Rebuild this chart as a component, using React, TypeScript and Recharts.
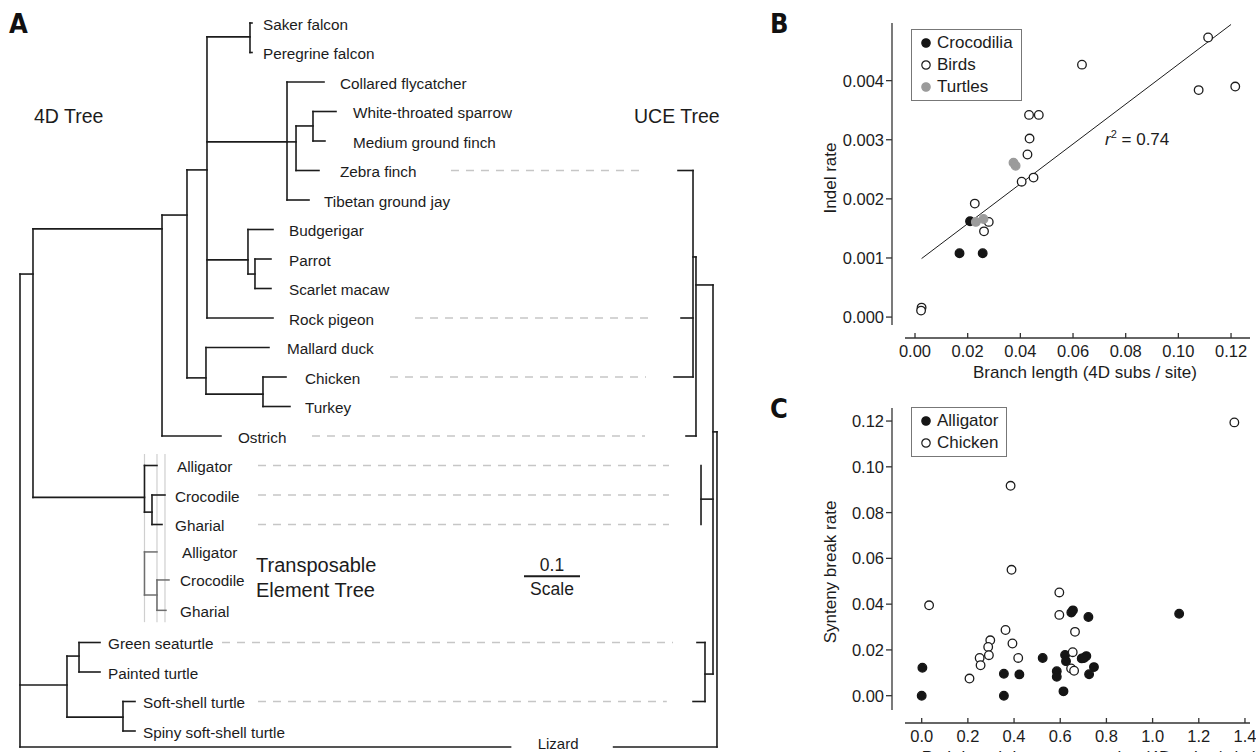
import { ScatterChart, Scatter, XAxis, YAxis, ReferenceLine, Legend } from 'recharts'

const FONT = "'Liberation Sans', Arial, Helvetica, sans-serif"
const LETTER_FONT = "'Liberation Sans Narrow', 'DejaVu Sans Condensed', 'Liberation Sans', sans-serif"
const INK = '#1c1c1c'
const AXIS = '#333'
const AXIS_GAP = 13 // detached R-style axes

// ---------- Panel A: trees ----------
// x = branch length from the 4D root (subs / site), row = leaf row (0 = Saker falcon)
type Node = [id: string, parent: string | null, x: number, row: number | null]

const TREE_4D: Node[] = [
  ['root', null, 0, null],
  ['Archosauria', 'root', 0.0232, 8.51],
  ['Aves', 'Archosauria', 0.2536, 6.98],
  ['Neognathae', 'Aves', 0.2982, 6.51],
  ['Neoaves', 'Neognathae', 0.3339, 4.98],
  ['Falcons', 'Neoaves', 0.4107, 0.47],
  ['Saker falcon', 'Falcons', 0.4143, 0],
  ['Peregrine falcon', 'Falcons', 0.4143, 1],
  ['Passeriformes', 'Neoaves', 0.4768, 4.03],
  ['Collared flycatcher', 'Passeriformes', 0.5429, 2],
  ['Passeroidea', 'Passeriformes', 0.4929, 4.03],
  ['Emberizoidea', 'Passeroidea', 0.5232, 3.49],
  ['White-throated sparrow', 'Emberizoidea', 0.5643, 3],
  ['Medium ground finch', 'Emberizoidea', 0.5446, 4],
  ['Zebra finch', 'Passeroidea', 0.5339, 5],
  ['Tibetan ground jay', 'Passeriformes', 0.5161, 6],
  ['Psittaciformes', 'Neoaves', 0.4071, 8.03],
  ['Budgerigar', 'Psittaciformes', 0.4518, 7],
  ['Arini', 'Psittaciformes', 0.4196, 8.51],
  ['Parrot', 'Arini', 0.4482, 8],
  ['Scarlet macaw', 'Arini', 0.4482, 9],
  ['Rock pigeon', 'Neoaves', 0.4518, 10],
  ['Galloanserae', 'Neognathae', 0.3321, 12.03],
  ['Mallard duck', 'Galloanserae', 0.4446, 11],
  ['Phasianidae', 'Galloanserae', 0.4339, 12.58],
  ['Chicken', 'Phasianidae', 0.475, 12],
  ['Turkey', 'Phasianidae', 0.4821, 13],
  ['Ostrich', 'Aves', 0.3589, 14],
  ['Crocodylia', 'Archosauria', 0.2223, 16.08],
  ['Alligator', 'Crocodylia', 0.2446, 15],
  ['Crocodylidae', 'Crocodylia', 0.2357, 16.58],
  ['Crocodile', 'Crocodylidae', 0.2589, 16],
  ['Gharial', 'Crocodylidae', 0.2536, 17],
  ['Testudines', 'root', 0.0839, 22.44],
  ['Cryptodira', 'Testudines', 0.1054, 21.46],
  ['Green seaturtle', 'Cryptodira', 0.1429, 21],
  ['Painted turtle', 'Cryptodira', 0.1429, 22],
  ['Trionychidae', 'Testudines', 0.1839, 23.53],
  ['Soft-shell turtle', 'Trionychidae', 0.2054, 23],
  ['Spiny soft-shell turtle', 'Trionychidae', 0.2054, 24],
  ['Lizard', 'root', 1.2446, 24.54],
]

const TREE_TE: Node[] = [
  ['root', null, 0.2223, null],
  ['Alligator', 'root', 0.2446, 17.93],
  ['Crocodylidae', 'root', 0.2446, 19.39],
  ['Crocodile', 'Crocodylidae', 0.2661, 18.88],
  ['Gharial', 'Crocodylidae', 0.2607, 19.91],
]

const TREE_UCE: Node[] = [
  ['root', null, 1.2446, null],
  ['Reptiles', 'root', 1.2375, 13.86],
  ['Aves', 'Reptiles', 1.2071, 8.88],
  ['Neognathae', 'Aves', 1.2018, 7.93],
  ['Zebra finch', 'Neognathae', 1.175, 5],
  ['Rock pigeon', 'Neognathae', 1.1804, 10],
  ['Chicken', 'Neognathae', 1.1679, 12],
  ['Ostrich', 'Aves', 1.1893, 14],
  ['Crocodylia', 'Reptiles', 1.2161, 16.14],
  ['Alligator', 'Crocodylia', 1.2161, 15],
  ['Crocodile', 'Crocodylia', 1.2161, 16],
  ['Gharial', 'Crocodylia', 1.2161, 17],
  ['Testudines', 'Reptiles', 1.2232, 22.07],
  ['Green seaturtle', 'Testudines', 1.2089, 21],
  ['Soft-shell turtle', 'Testudines', 1.2018, 23],
  ['Lizard', 'root', 1.2446, 24.54],
]

// dashed links between 4D leaves and UCE leaves: [leaf, from, to]
const LINKS: [string, number, number][] = [
  ['Zebra finch', 0.7696, 1.1179],
  ['Rock pigeon', 0.7054, 1.1286],
  ['Chicken', 0.6607, 1.1179],
  ['Ostrich', 0.5214, 1.1161],
  ['Alligator', 0.425, 1.1589],
  ['Crocodile', 0.425, 1.1589],
  ['Gharial', 0.425, 1.1589],
  ['Green seaturtle', 0.3607, 1.1661],
  ['Soft-shell turtle', 0.425, 1.155],
]

const TE_GUIDES = [0.2223, 0.2446, 0.2589]
const TE_GUIDE_ROWS = [14.61, 20.31]
const SCALE_BAR = [0.9, 1.0]
const SCALE_ROW = 18.75

// ---------- Panel B ----------
const BIRDS = [
  [0.1113, 0.00473], [0.0634, 0.00427], [0.1077, 0.00384], [0.1216, 0.0039],
  [0.0433, 0.00342], [0.047, 0.00342], [0.0435, 0.00302], [0.0427, 0.00275],
  [0.0405, 0.00229], [0.045, 0.00236], [0.0227, 0.00192], [0.028, 0.00161],
  [0.0262, 0.00145], [0.0025, 0.00016], [0.0023, 0.00011],
]
const CROCODILIA = [[0.0209, 0.00162], [0.0169, 0.00108], [0.0257, 0.00108]]
const TURTLES = [[0.0374, 0.00261], [0.0382, 0.00256], [0.0231, 0.00161], [0.026, 0.00166]]
const FIT_LINE = [[0.0025, 0.00099], [0.12, 0.00495]]
const B_X_TICKS = [0, 0.02, 0.04, 0.06, 0.08, 0.1, 0.12]
const B_Y_TICKS = [0, 0.001, 0.002, 0.003, 0.004]

// ---------- Panel C ----------
const ALLIGATOR = [
  [1.115, 0.0358], [0.003, 0.0122], [0, 0], [0.356, 0], [0.356, 0.0096], [0.423, 0.0093],
  [0.524, 0.0165], [0.585, 0.0107], [0.585, 0.0083], [0.614, 0.0019], [0.621, 0.0178],
  [0.625, 0.0151], [0.648, 0.0363], [0.655, 0.0373], [0.722, 0.0344], [0.693, 0.0163],
  [0.713, 0.0173], [0.725, 0.0094], [0.746, 0.0125], [0.703, 0.0165],
]
const CHICKEN = [
  [1.354, 0.1194], [0.385, 0.0917], [0.389, 0.055], [0.032, 0.0395], [0.596, 0.0451],
  [0.596, 0.0353], [0.664, 0.0279], [0.363, 0.0287], [0.297, 0.0242], [0.393, 0.0228],
  [0.288, 0.0213], [0.291, 0.0177], [0.251, 0.0165], [0.255, 0.0133], [0.418, 0.0165],
  [0.207, 0.0075], [0.654, 0.019], [0.647, 0.0119], [0.66, 0.0109],
]
const C_X_TICKS = [0, 0.2, 0.4, 0.6, 0.8, 1.0, 1.2, 1.4]
const C_Y_TICKS = [0, 0.02, 0.04, 0.06, 0.08, 0.1, 0.12]

// ---------- layout ----------
const TREE_W = 760
const TREE_H = 752
const TREE_X_DOMAIN = [-20 / 560, 740 / 560]
const TREE_ROW_DOMAIN = [-23 / 29.5, 729 / 29.5]
const LIZARD_LABEL_X = 0.968
const LIZARD_HALF_GAP = 0.092
const B_X_DOMAIN = [-0.0038, 0.1272]
const B_Y_DOMAIN = [-0.000134, 0.004975]
const C_X_DOMAIN = [-0.0723, 1.4218]
const C_Y_DOMAIN = [-0.00625, 0.1257]

// px between end of a leaf branch and its label
const LABEL_GAP: Record<string, number> = {
  'Saker falcon': 11, 'Peregrine falcon': 11, 'Collared flycatcher': 16,
  'White-throated sparrow': 17, 'Medium ground finch': 28, 'Zebra finch': 21,
  'Tibetan ground jay': 15, Budgerigar: 16, Parrot: 18, 'Scarlet macaw': 18,
  'Rock pigeon': 16, 'Mallard duck': 18, Chicken: 19, Turkey: 15, Ostrich: 17,
  Alligator: 20, Crocodile: 10, Gharial: 13, 'te:Alligator': 25, 'te:Crocodile': 11,
  'te:Gharial': 14, 'Green seaturtle': 8, 'Painted turtle': 8,
  'Soft-shell turtle': 8, 'Spiny soft-shell turtle': 8,
}

const pts = (a: number[][]) => a.map(([x, y]) => ({ x, y }))

type Seg = [{ x: number; y: number }, { x: number; y: number }]

function treeSegments(nodes: Node[]): Seg[] {
  const byId = new Map(nodes.map((n) => [n[0], n]))
  const segs: Seg[] = []
  for (const [id, parent, x, row] of nodes) {
    if (parent == null || row == null || id === 'Lizard') continue
    const px = byId.get(parent)![2]
    if (Math.abs(px - x) > 1e-6) segs.push([{ x: px, y: row }, { x, y: row }])
  }
  for (const [id, , x] of nodes) {
    const rows = nodes.filter((n) => n[1] === id).map((n) => n[3] as number)
    if (rows.length) segs.push([{ x, y: Math.min(...rows) }, { x, y: Math.max(...rows) }])
  }
  return segs
}

function leaves(nodes: Node[], prefix: string) {
  const parents = new Set(nodes.map((n) => n[1]))
  return nodes
    .filter((n) => !parents.has(n[0]) && n[0] !== 'Lizard')
    .map(([id, , x, row]) => ({ x, y: row as number, name: id, key: prefix + id }))
}

const LIZARD_ROW = TREE_4D.find((n) => n[0] === 'Lizard')![3] as number
const UCE_ROOT_X = TREE_UCE[0][2]

function TreePanel() {
  const black = treeSegments(TREE_4D).concat(treeSegments(TREE_UCE))
  const grey = treeSegments(TREE_TE)
  const labels = leaves(TREE_4D, '').concat(leaves(TREE_TE, 'te:'))
  const line = { stroke: INK, strokeWidth: 1.6, strokeLinecap: 'square' as const, ifOverflow: 'visible' as const }
  return (
    <ScatterChart width={TREE_W} height={TREE_H} margin={{ top: 0, right: 0, bottom: 0, left: 0 }}>
      <XAxis type="number" dataKey="x" domain={TREE_X_DOMAIN} allowDataOverflow hide />
      <YAxis type="number" dataKey="y" domain={TREE_ROW_DOMAIN} allowDataOverflow reversed hide />
      {TE_GUIDES.map((gx) => (
        <ReferenceLine key={'g' + gx} segment={[{ x: gx, y: TE_GUIDE_ROWS[0] }, { x: gx, y: TE_GUIDE_ROWS[1] }]}
          stroke="#cfcfcf" strokeWidth={1.2} ifOverflow="visible" />
      ))}
      {LINKS.map(([name, a, b]) => {
        const row = TREE_UCE.find((n) => n[0] === name)![3] as number
        return (
          <ReferenceLine key={'l' + name} segment={[{ x: a, y: row }, { x: b, y: row }]}
            stroke="#c6c6c6" strokeWidth={1.3} strokeDasharray="8 7" ifOverflow="visible" />
        )
      })}
      {grey.map((s, i) => (
        <ReferenceLine key={'t' + i} segment={s} {...line} stroke="#6e6e6e" strokeWidth={1.5} />
      ))}
      {black.map((s, i) => (
        <ReferenceLine key={'b' + i} segment={s} {...line} />
      ))}
      <ReferenceLine segment={[{ x: 0, y: LIZARD_ROW }, { x: LIZARD_LABEL_X - LIZARD_HALF_GAP, y: LIZARD_ROW }]} {...line} />
      <ReferenceLine segment={[{ x: LIZARD_LABEL_X + LIZARD_HALF_GAP, y: LIZARD_ROW }, { x: UCE_ROOT_X, y: LIZARD_ROW }]} {...line} />
      <ReferenceLine segment={[{ x: SCALE_BAR[0], y: SCALE_ROW }, { x: SCALE_BAR[1], y: SCALE_ROW }]} {...line} strokeWidth={2} strokeLinecap="butt" />
      <Scatter
        data={labels}
        isAnimationActive={false}
        shape={(p: any) => (
          <text x={p.cx + (LABEL_GAP[p.payload.key] ?? 12)} y={p.cy + 1} dominantBaseline="central"
            fontSize={15.3} fontFamily={FONT} fill={INK}>
            {p.payload.name}
          </text>
        )}
      />
      <Scatter
        data={[{ x: LIZARD_LABEL_X, y: LIZARD_ROW, name: 'Lizard' }]}
        isAnimationActive={false}
        shape={(p: any) => (
          <text x={p.cx - 4} y={p.cy - 3} textAnchor="middle" dominantBaseline="central"
            fontSize={15} fontFamily={FONT} fill={INK}>
            {p.payload.name}
          </text>
        )}
      />
    </ScatterChart>
  )
}

// ---------- scatter panels ----------
function XTick(props: any) {
  const { x, y, payload, digits } = props
  const ay = y + AXIS_GAP
  return (
    <g>
      <line x1={x} x2={x} y1={ay} y2={ay - 5} stroke={AXIS} strokeWidth={1.3} />
      <text x={x} y={ay + 13} textAnchor="middle" dominantBaseline="central" fontSize={16.5} fontFamily={FONT} fill={INK}>
        {Number(payload.value).toFixed(digits)}
      </text>
    </g>
  )
}

function YTick(props: any) {
  const { x, y, payload, digits } = props
  const ax = x - AXIS_GAP
  return (
    <g>
      <line x1={ax} x2={ax - 6} y1={y} y2={y} stroke={AXIS} strokeWidth={1.3} />
      <text x={ax - 8} y={y} textAnchor="end" dominantBaseline="central" fontSize={16.5} fontFamily={FONT} fill={INK}>
        {Number(payload.value).toFixed(digits)}
      </text>
    </g>
  )
}

type Series = { name: string; data: number[][]; fill: string; stroke: string }

const B_SERIES: Series[] = [
  { name: 'Birds', data: BIRDS, fill: '#fff', stroke: INK },
  { name: 'Crocodilia', data: CROCODILIA, fill: '#151515', stroke: '#151515' },
  { name: 'Turtles', data: TURTLES, fill: '#9b9b9b', stroke: '#9b9b9b' },
]
const B_LEGEND = ['Crocodilia', 'Birds', 'Turtles']

const C_SERIES: Series[] = [
  { name: 'Alligator', data: ALLIGATOR, fill: '#151515', stroke: '#151515' },
  { name: 'Chicken', data: CHICKEN, fill: '#fff', stroke: INK },
]
const C_LEGEND = ['Alligator', 'Chicken']

function LegendBox({ series, order, rowH }: { series: Series[]; order: string[]; rowH: number }) {
  return (
    <div style={{ border: '1.3px solid #777', padding: '2px 8px 2px 8px', background: '#fff', fontFamily: FONT, fontSize: 17, color: INK }}>
      {order.map((name) => {
        const s = series.find((q) => q.name === name)!
        return (
          <div key={name} style={{ display: 'flex', alignItems: 'center', height: rowH, whiteSpace: 'nowrap' }}>
            <svg width={12} height={12} style={{ marginRight: 5 }}>
              <circle cx={6} cy={6} r={4.2} fill={s.fill} stroke={s.stroke} strokeWidth={1.2} />
            </svg>
            {name}
          </div>
        )
      })}
    </div>
  )
}

function ScatterPanel(props: {
  height: number
  top: number
  xDomain: number[]
  yDomain: number[]
  xTicks: number[]
  yTicks: number[]
  xDigits: number
  yDigits: number
  series: Series[]
  legend: string[]
  legendTop: number
  rowH: number
  children?: any
}) {
  const { height, top, xDomain, yDomain, xTicks, yTicks, xDigits, yDigits, series, legend, legendTop, rowH } = props
  return (
    <ScatterChart width={476} height={height} margin={{ top, right: 6, bottom: height - top - 300 - 30 - 2, left: 65 }}>
      <XAxis type="number" dataKey="x" domain={xDomain} allowDataOverflow ticks={xTicks} interval={0}
        height={30} tickSize={0} tickMargin={0} tickLine={false}
        axisLine={{ stroke: AXIS, strokeWidth: 1.3, transform: `translate(0, ${AXIS_GAP})` }}
        tick={(p: any) => <XTick {...p} digits={xDigits} />} />
      <YAxis type="number" dataKey="y" domain={yDomain} allowDataOverflow ticks={yTicks} interval={0}
        width={60} tickSize={0} tickMargin={0} tickLine={false}
        axisLine={{ stroke: AXIS, strokeWidth: 1.3, transform: `translate(${-AXIS_GAP}, 0)` }}
        tick={(p: any) => <YTick {...p} digits={yDigits} />} />
      {props.children}
      {series.map((s) => (
        <Scatter key={s.name} name={s.name} data={pts(s.data)} isAnimationActive={false}
          shape={(p: any) => <circle cx={p.cx} cy={p.cy} r={4.3} fill={s.fill} stroke={s.stroke} strokeWidth={1.3} />} />
      ))}
      <Legend layout="vertical" align="center" verticalAlign="middle"
        wrapperStyle={{ left: 131, top: legendTop, width: 'auto' }}
        content={() => <LegendBox series={series} order={legend} rowH={rowH} />} />
    </ScatterChart>
  )
}

function Annotations() {
  const t = { fontFamily: FONT, fill: INK }
  return (
    <svg width={1256} height={752} style={{ position: 'absolute', left: 0, top: 0, pointerEvents: 'none' }}>
      <g fontFamily={LETTER_FONT} fontWeight={700} fontSize={27} fill="#111">
        <text x={9} y={33}>A</text>
        <text x={770} y={33}>B</text>
        <text x={770} y={418}>C</text>
      </g>
      <text {...t} x={34} y={116} fontSize={19.5} dominantBaseline="central">4D Tree</text>
      <text {...t} x={634} y={116} fontSize={19.5} dominantBaseline="central">UCE Tree</text>
      <text {...t} x={256} y={565} fontSize={20} dominantBaseline="central">Transposable</text>
      <text {...t} x={256} y={590} fontSize={20} dominantBaseline="central">Element Tree</text>
      <text {...t} x={552} y={565} fontSize={17.5} textAnchor="middle" dominantBaseline="central">0.1</text>
      <text {...t} x={552} y={589} fontSize={17.5} textAnchor="middle" dominantBaseline="central">Scale</text>
      <text {...t} fontSize={17} textAnchor="middle" dominantBaseline="central" transform="translate(830,178) rotate(-90)">Indel rate</text>
      <text {...t} fontSize={17} textAnchor="middle" dominantBaseline="central" transform="translate(830,572) rotate(-90)">Synteny break rate</text>
      <text {...t} x={1085} y={372} fontSize={17} textAnchor="middle" dominantBaseline="central">Branch length (4D subs / site)</text>
      <text {...t} x={1090} y={757} fontSize={17} textAnchor="middle" dominantBaseline="central">Path length between species (4D subs / site)</text>
      <text {...t} x={1105} y={145} fontSize={17}>
        <tspan fontStyle="italic">r</tspan>
        <tspan fontSize={11} dy={-7}>2</tspan>
        <tspan dy={7}> = 0.74</tspan>
      </text>
    </svg>
  )
}

export default function App() {
  return (
    <div style={{ position: 'absolute', left: 0, top: 0, width: 1256, height: 752, overflow: 'hidden', background: '#fff', fontFamily: FONT }}>
      <div style={{ position: 'absolute', left: 0, top: 0 }}>
        <TreePanel />
      </div>
      <div style={{ position: 'absolute', left: 780, top: 0 }}>
        <ScatterPanel height={390} top={23} xDomain={B_X_DOMAIN} yDomain={B_Y_DOMAIN}
          xTicks={B_X_TICKS} yTicks={B_Y_TICKS} xDigits={2} yDigits={3}
          series={B_SERIES} legend={B_LEGEND} legendTop={29} rowH={22}>
          <ReferenceLine segment={pts(FIT_LINE) as any} stroke={INK} strokeWidth={1} ifOverflow="visible" />
        </ScatterPanel>
      </div>
      <div style={{ position: 'absolute', left: 780, top: 390 }}>
        <ScatterPanel height={362} top={18} xDomain={C_X_DOMAIN} yDomain={C_Y_DOMAIN}
          xTicks={C_X_TICKS} yTicks={C_Y_TICKS} xDigits={1} yDigits={2}
          series={C_SERIES} legend={C_LEGEND} legendTop={17} rowH={22} />
      </div>
      <Annotations />
    </div>
  )
}
